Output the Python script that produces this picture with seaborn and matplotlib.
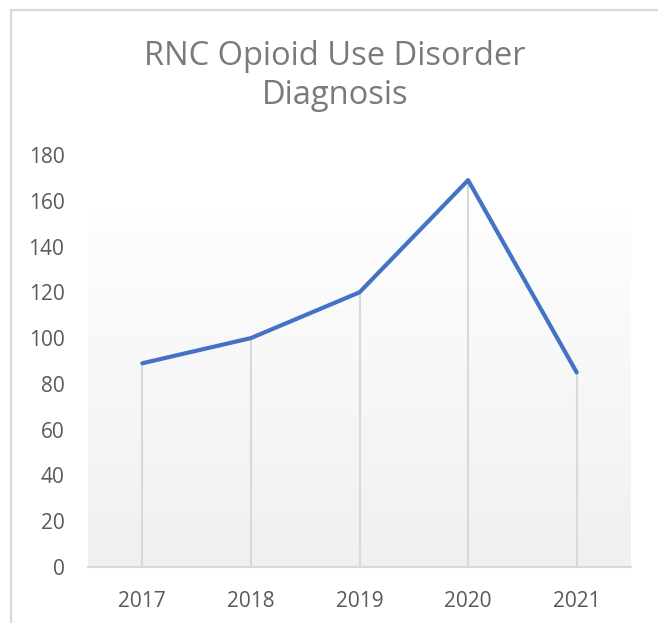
import numpy as np
import pandas as pd
import matplotlib
matplotlib.use("Agg")
import matplotlib.pyplot as plt
import seaborn as sns

# Data
years = ["2017", "2018", "2019", "2020", "2021"]
diagnoses = [89, 100, 120, 169, 85]
y_ticks = [0, 20, 40, 60, 80, 100, 120, 140, 160, 180]
title = "RNC Opioid Use Disorder\nDiagnosis"

sns.set_theme(style="white")
plt.rcParams["font.family"] = ["Open Sans", "DejaVu Sans"]

df = pd.DataFrame({"year": years, "count": diagnoses})

W, H, DPI = 658, 623, 100
fig = plt.figure(figsize=(W / DPI, H / DPI), dpi=DPI)
fig.patch.set_facecolor("white")

# chart frame (light grey border along the top and left)
border = "#d9d9d9"
fig.add_artist(plt.Line2D([11 / W, 11 / W], [0, 1 - 10 / H], color=border, lw=1.6,
                          transform=fig.transFigure))
fig.add_artist(plt.Line2D([11 / W, 1], [1 - 10 / H, 1 - 10 / H], color=border, lw=1.6,
                          transform=fig.transFigure))

left, right, bottom, top = 88 / W, 631 / W, 1 - 567 / H, 1 - 155 / H
ax = fig.add_axes([left, bottom, right - left, top - bottom])
ax.set_facecolor("none")

# plot-area gradient fill (white at top, light grey at bottom)
grad_top = (567 - 208) / (567 - 155)
grad = np.linspace(0, 1, 256).reshape(-1, 1)
cmap = matplotlib.colors.LinearSegmentedColormap.from_list("bg", ["#f0f0f0", "#fefefe"])
ax.imshow(grad, extent=[0, 1, 0, grad_top], transform=ax.transAxes, cmap=cmap,
          aspect="auto", origin="lower", zorder=0, interpolation="bicubic")

sns.lineplot(data=df, x="year", y="count", ax=ax, color="#4472C4", linewidth=3.0,
             sort=False, zorder=3)
for ln in ax.get_lines():
    ln.set_solid_capstyle("round")
    ln.set_solid_joinstyle("round")

# drop lines from each point to the category axis
ax.vlines(range(len(years)), 0, diagnoses, color="#d9d9d9", linewidth=1.5, zorder=2)

ax.set_xlim(-0.5, len(years) - 0.5)
ax.set_ylim(0, 180)
ax.set_yticks(y_ticks)
ax.set_xlabel("")
ax.set_ylabel("")

for s in ["top", "right", "left"]:
    ax.spines[s].set_visible(False)
ax.spines["bottom"].set_color("#d9d9d9")
ax.spines["bottom"].set_linewidth(1.5)
ax.spines["bottom"].set_zorder(1)

ax.tick_params(axis="y", length=0, pad=17, labelsize=15, labelcolor="#595959")
ax.tick_params(axis="x", length=0, pad=17, labelsize=15, labelcolor="#595959")

fig.text(335 / W, 1 - 40 / H, title, ha="center", va="top", fontsize=23.5,
         color="#7a7a7a", linespacing=1.22)

fig.savefig("out.png", dpi=DPI, facecolor="white")
